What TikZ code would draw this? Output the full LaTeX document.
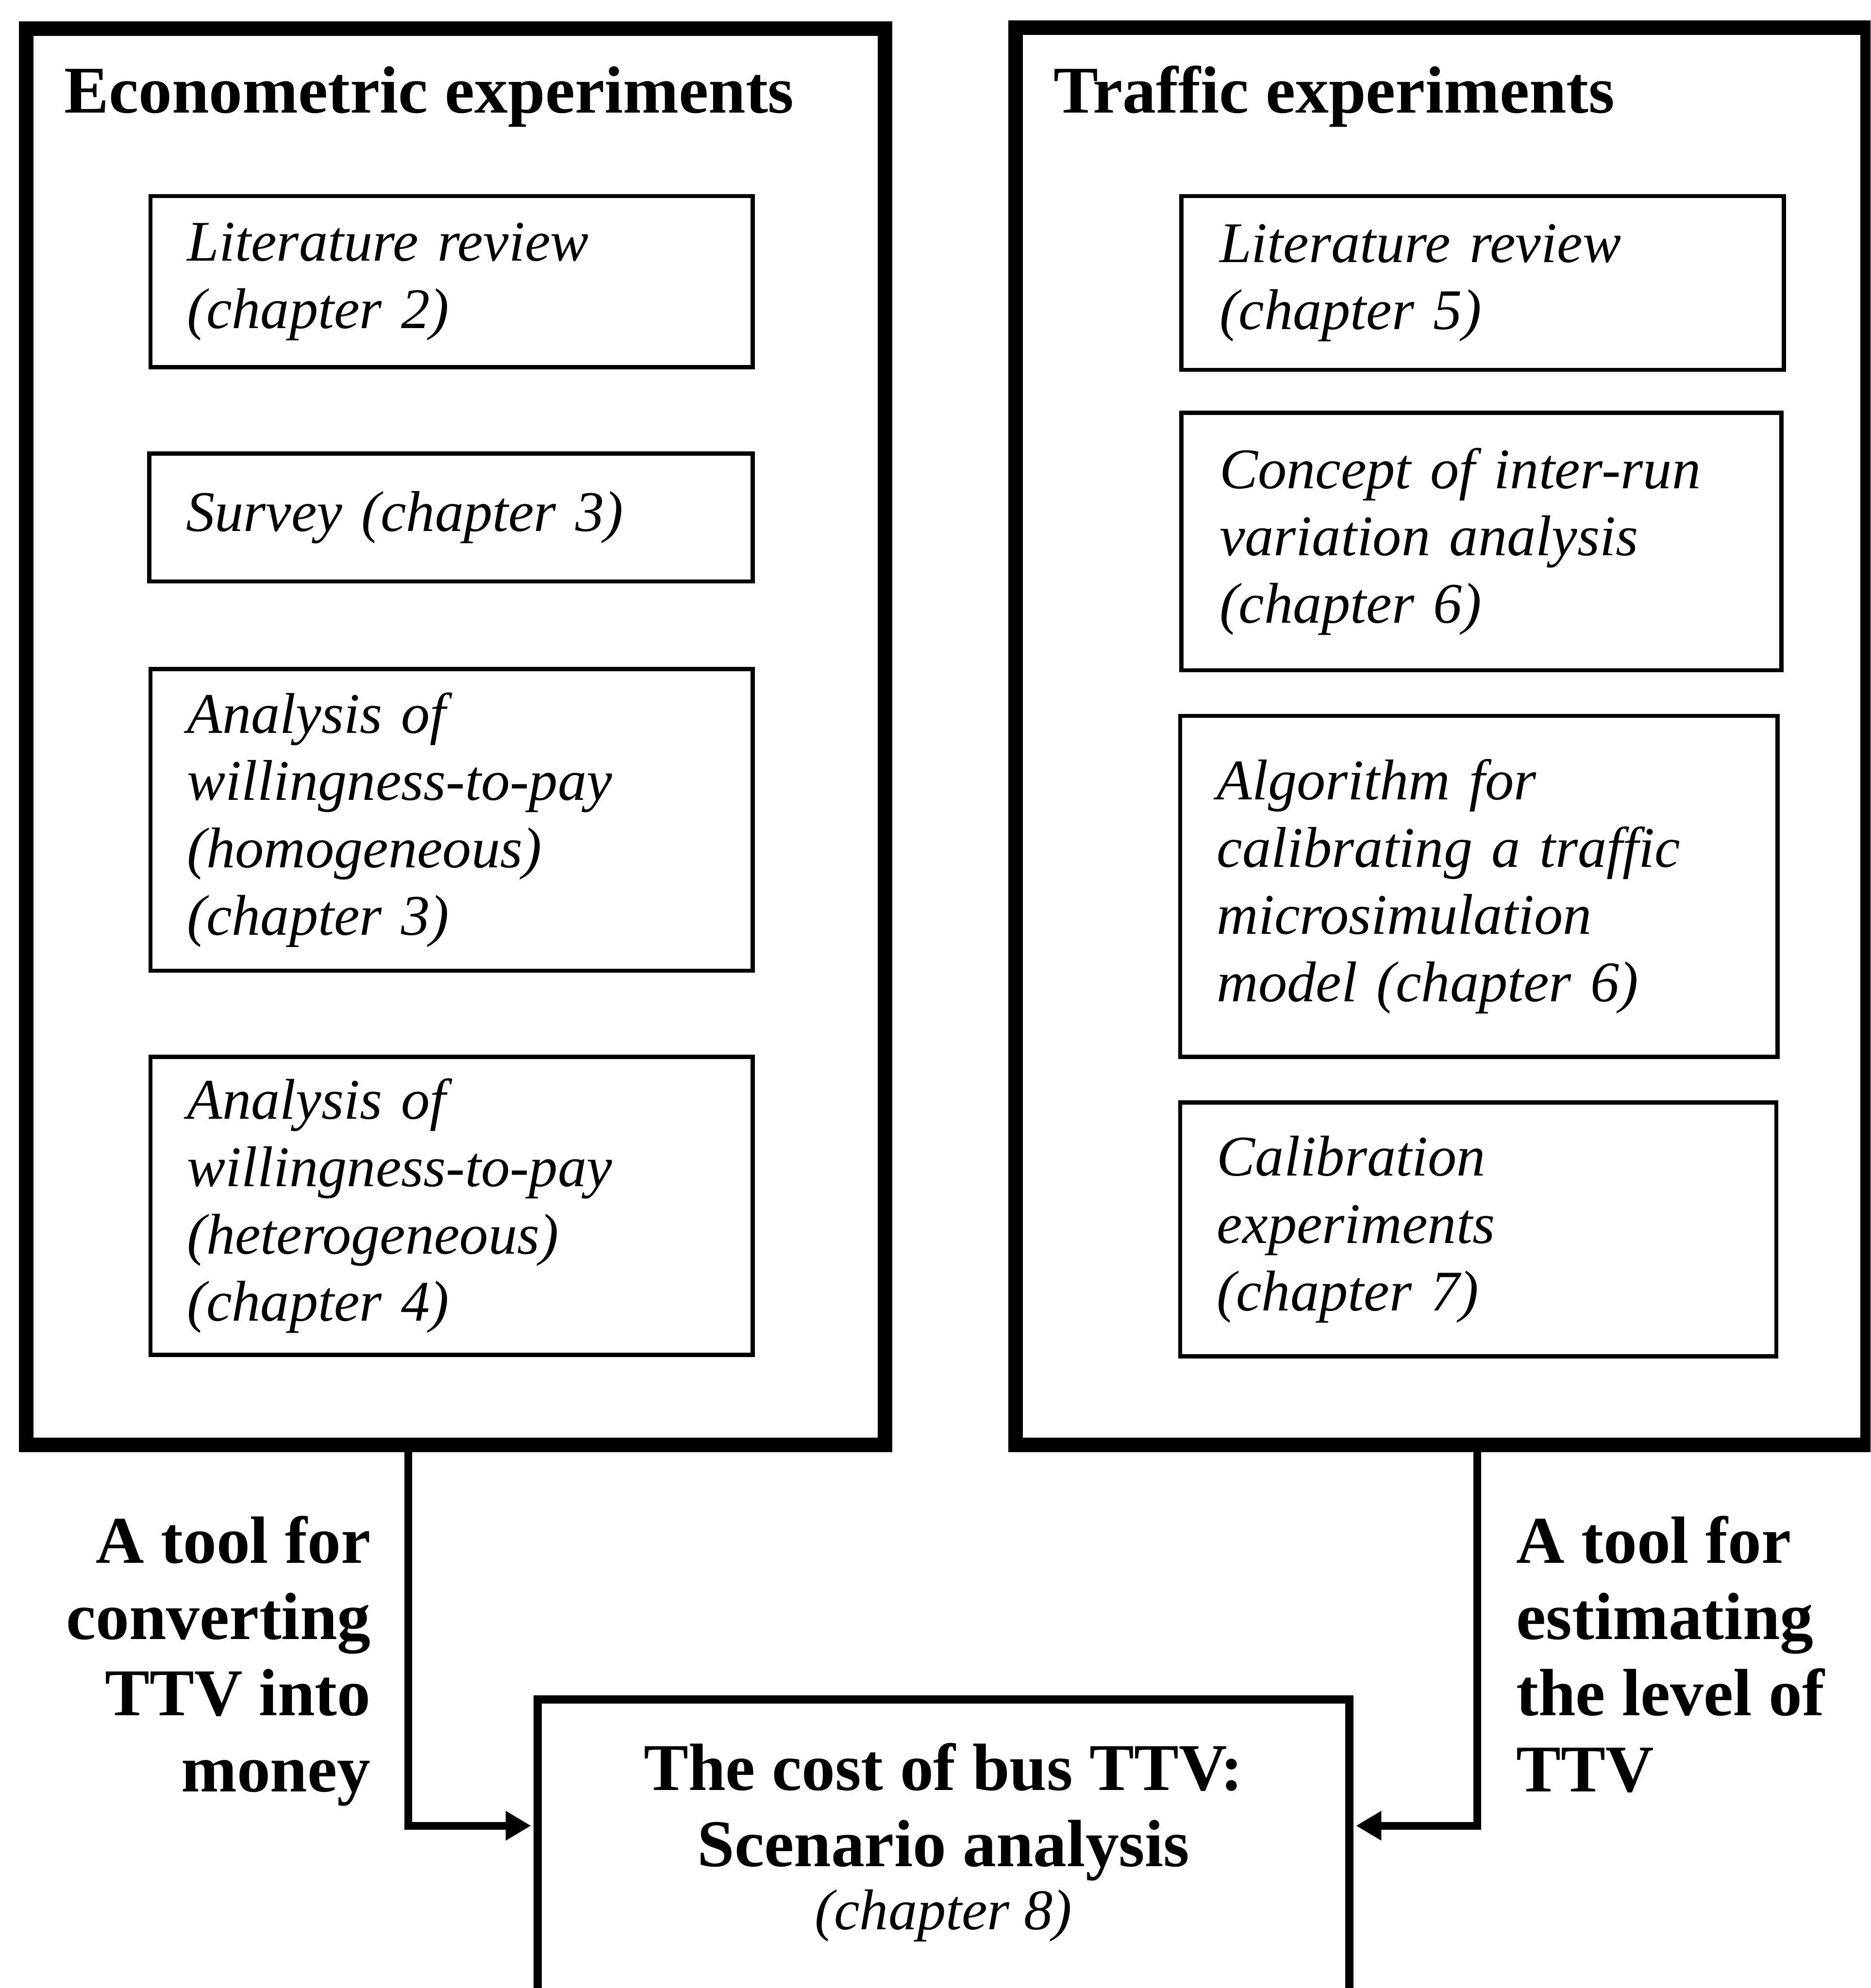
\documentclass[tikz,border=0pt]{standalone}
\usepackage{fontspec}
\setmainfont{Liberation Serif}
\usetikzlibrary{arrows.meta}
\newcommand\itfont{\fontsize{12.9}{15.1}\selectfont\itshape}
\newcommand\bffont{\fontsize{15}{17.1}\selectfont\bfseries}
\tikzset{
  bigbox/.style={draw, line width=0.115cm, anchor=north west, inner sep=0pt},
  ibox/.style={draw, line width=0.033cm, inner xsep=0.29cm, inner ysep=0pt, align=left, anchor=north west, font=\itfont},
  titletext/.style={anchor=base west, inner sep=0pt, font=\bffont},
  lbl/.style={inner sep=0pt, font=\bffont},
  resbox/.style={draw, line width=0.065cm, anchor=north, inner sep=0pt},
  conn/.style={line width=0.06cm, -{Triangle[length=0.2cm,width=0.22cm]}, shorten >=0.02cm}
}
\begin{document}
\begin{tikzpicture}
\useasboundingbox (0,0) rectangle (14.75,-15.68);
\clip (0,0) rectangle (14.75,-15.68);
\fill[white] (0,0) rectangle (14.75,-15.68);

% big boxes
\node[bigbox, minimum width=6.77cm, minimum height=11.17cm] (econ) at (0.15,-0.17) {};
\node[bigbox, minimum width=6.72cm, minimum height=11.18cm] (traf) at (7.95,-0.16) {};
\node[titletext] (econt) at (0.50,-0.89) {Econometric experiments};
\node[titletext] (traft) at (8.30,-0.89) {Traffic experiments};

% left column
\node[ibox, minimum width=4.75cm, minimum height=1.35cm, text width=4.17cm] (l1) at (1.17,-1.53) {Literature review\\(chapter 2)};
\node[ibox, minimum width=4.76cm, minimum height=1.01cm, text width=4.18cm] (l2) at (1.16,-3.56) {Survey (chapter 3)};
\node[ibox, minimum width=4.75cm, minimum height=2.38cm, text width=4.17cm] (l3) at (1.17,-5.26) {Analysis of\\willingness-to-pay\\(homogeneous)\\(chapter 3)};
\node[ibox, minimum width=4.75cm, minimum height=2.35cm, text width=4.17cm] (l4) at (1.17,-8.32) {Analysis of\\willingness-to-pay\\(heterogeneous)\\(chapter 4)};

% right column
\node[ibox, inner xsep=0.30cm, minimum width=4.75cm, minimum height=1.37cm, text width=4.15cm] (r1) at (9.30,-1.53) {Literature review\\(chapter 5)};
\node[ibox, inner xsep=0.30cm, minimum width=4.73cm, minimum height=2.03cm, text width=4.13cm] (r2) at (9.30,-3.24) {Concept of inter-run\\variation analysis\\(chapter 6)};
\node[ibox, minimum width=4.71cm, minimum height=2.69cm, text width=4.13cm] (r3) at (9.29,-5.63) {Algorithm for\\calibrating a traffic\\microsimulation\\model (chapter 6)};
\node[ibox, minimum width=4.70cm, minimum height=2.00cm, text width=4.12cm] (r4) at (9.29,-8.68) {Calibration\\experiments\\(chapter 7)};

% result box (cut off by the picture's lower edge)
\node[resbox, minimum width=6.40cm, minimum height=3cm] (res) at (7.44,-13.37) {};
\node[lbl, anchor=base, align=center] (rest) at (7.44,-15.22) {The cost of bus TTV:\\Scenario analysis\\[-0.1cm]{\itfont\mdseries (chapter 8)}};

% side labels
\node[lbl, anchor=base east, align=right] (lab1) at (2.93,-14.13) {A tool for\\converting\\TTV into\\money};
\node[lbl, anchor=base west, align=left] (lab2) at (11.95,-14.13) {A tool for\\estimating\\the level of\\TTV};

% connectors
\coordinate (lx) at (3.22,0);
\coordinate (rx) at (11.65,0);
\coordinate (ay) at (0,-14.40);
\draw[conn] (econ.south -| lx) |- (res.west |- ay);
\draw[conn] (traf.south -| rx) |- (res.east |- ay);
\end{tikzpicture}
\end{document}
